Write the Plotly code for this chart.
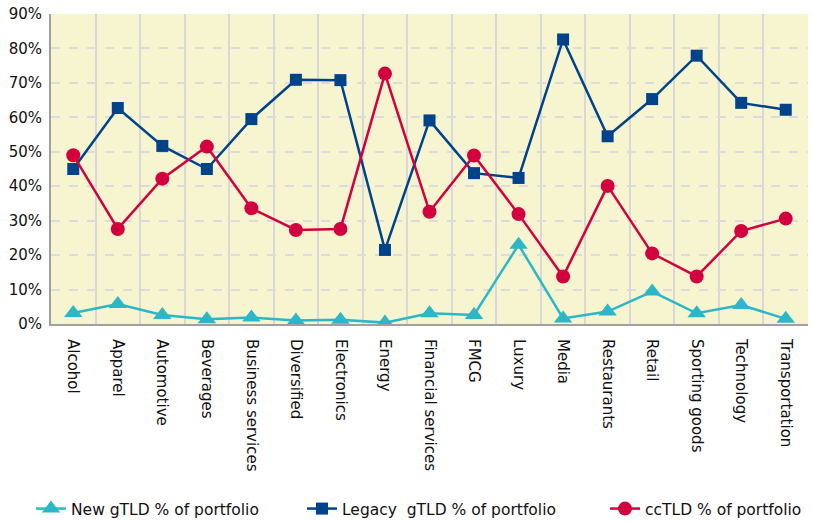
import plotly.graph_objects as go

categories = ["Alcohol", "Apparel", "Automotive", "Beverages", "Business services",
              "Diversified", "Electronics", "Energy", "Financial services", "FMCG",
              "Luxury", "Media", "Restaurants", "Retail", "Sporting goods",
              "Technology", "Transportation"]
new_gtld = [3.2, 5.8, 2.6, 1.4, 1.9, 1.0, 1.2, 0.4, 3.1, 2.6, 23.0, 1.6, 3.6, 9.4, 3.1, 5.5, 1.5]
legacy_gtld = [45.0, 62.7, 51.7, 45.0, 59.5, 70.9, 70.8, 21.5, 59.1, 43.8, 42.4, 82.6, 54.5, 65.3, 77.9, 64.2, 62.2]
cctld = [49.0, 27.6, 42.2, 51.5, 33.6, 27.3, 27.6, 72.7, 32.6, 48.9, 31.9, 13.8, 40.1, 20.5, 13.8, 27.0, 30.6]

series_names = ["New gTLD % of portfolio", "Legacy  gTLD % of portfolio", "ccTLD % of portfolio"]
colors = ["#2BB7C8", "#00438A", "#D3003F"]
symbols = ["triangle-up", "square", "circle"]
sizes = [16, 12, 14]
legend_ids = ["legend", "legend2", "legend3"]
legend_x_px = [31, 302, 605]

W, H = 813, 521

fig = go.Figure()
for name, vals, c, s, sz, lg in zip(series_names, [new_gtld, legacy_gtld, cctld], colors, symbols, sizes, legend_ids):
    fig.add_trace(go.Scatter(
        x=categories, y=vals, name=name, mode="lines+markers",
        line=dict(color=c, width=2.5),
        marker=dict(symbol=s, size=sz, color=c),
        legend=lg,
    ))

legend_style = dict(
    orientation="h", xanchor="left", yanchor="middle",
    xref="container", yref="container", y=1 - 509 / H,
    font=dict(family="DejaVu Sans", size=15.5, color="#111111"),
    bgcolor="rgba(0,0,0,0)", borderwidth=0,
)

fig.update_layout(
    width=W, height=H,
    margin=dict(l=51, r=5, t=14, b=197),
    paper_bgcolor="white",
    plot_bgcolor="#F7F4D0",
    font=dict(family="DejaVu Sans", size=15, color="#111111"),
    showlegend=True,
    legend=dict(x=legend_x_px[0] / W, **legend_style),
    legend2=dict(x=legend_x_px[1] / W, **legend_style),
    legend3=dict(x=legend_x_px[2] / W, **legend_style),
)
fig.update_xaxes(
    type="category", tickangle=90, tickson="boundaries",
    showgrid=True, gridcolor="#D8D8D8", gridwidth=2,
    showline=True, linecolor="#A0A0A0", linewidth=2,
    ticks="", ticklabelstandoff=10,
    range=[-0.5, 16.5],
    tickfont=dict(family="DejaVu Sans", size=15, color="#111111"),
)
fig.update_yaxes(
    range=[0, 90], dtick=10, ticksuffix="%",
    showgrid=True, gridcolor="#DCDCDC", gridwidth=1.5, griddash="dash",
    showline=True, linecolor="#A0A0A0", linewidth=2,
    zeroline=False, ticks="", ticklabelstandoff=4,
    tickfont=dict(family="DejaVu Sans", size=15, color="#111111"),
)

fig.write_html("out.html")
